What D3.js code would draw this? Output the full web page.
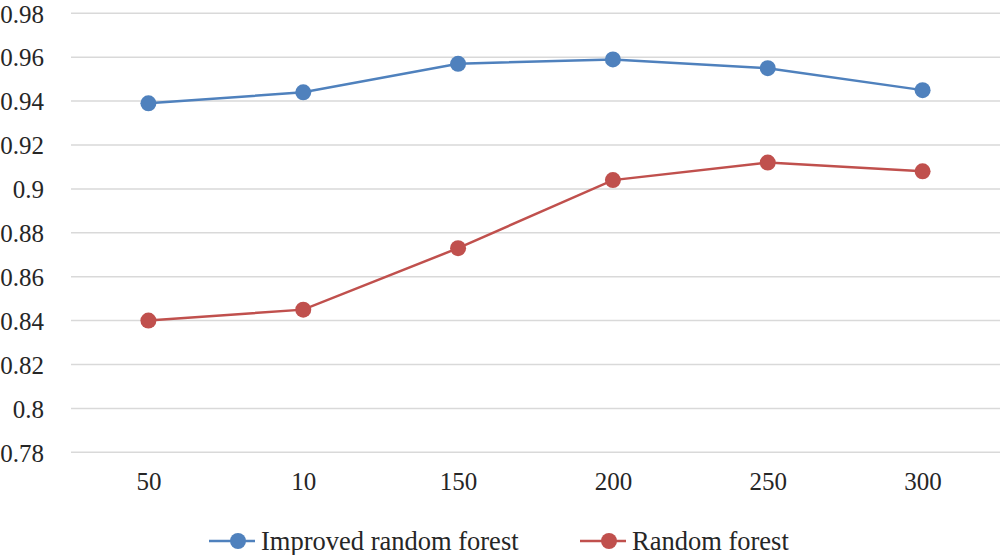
<!DOCTYPE html>
<html>
<head>
<meta charset="utf-8">
<script src="https://cdn.jsdelivr.net/npm/d3@7"></script>
<style>
  body { margin: 0; background: #fff; }
</style>
</head>
<body>
<div class="chart"></div>
<script>
// data
var categories = ["50", "10", "150", "200", "250", "300"];
var improvedRF = [0.939, 0.944, 0.957, 0.959, 0.955, 0.945];
var randomRF = [0.840, 0.845, 0.873, 0.904, 0.912, 0.908];
var yTicks = [0.78, 0.8, 0.82, 0.84, 0.86, 0.88, 0.9, 0.92, 0.94, 0.96, 0.98];
var seriesNames = ["Improved random forest", "Random forest"];
var seriesColors = ["#4f81bd", "#c0504d"];

var width = 1000, height = 555;
var plotLeft = 71, plotRight = 1000, plotTop = 13.3, plotBottom = 452.3;
var serif = "'Liberation Serif', 'Times New Roman', serif";

var svg = d3.select(".chart").append("svg")
  .attr("width", width)
  .attr("height", height);

var x = d3.scalePoint()
  .domain(categories)
  .range([plotLeft, plotRight])
  .padding(0.5);

var y = d3.scaleLinear()
  .domain([0.78, 0.98])
  .range([plotBottom, plotTop]);

// gridlines
svg.append("g")
  .selectAll("line")
  .data(yTicks)
  .join("line")
  .attr("x1", plotLeft)
  .attr("x2", plotRight)
  .attr("y1", d => y(d))
  .attr("y2", d => y(d))
  .attr("stroke", "#d9d9d9")
  .attr("stroke-width", 1.5);

// y labels
var yAxis = d3.axisLeft(y).tickValues(yTicks).tickSize(0).tickPadding(0)
  .tickFormat(d => String(+d.toFixed(2)));
var gy = svg.append("g").attr("transform", `translate(${plotLeft - 27},0)`).call(yAxis);
gy.select(".domain").remove();
gy.selectAll("text")
  .style("font-family", serif).style("font-size", "25px")
  .attr("fill", "#262626").attr("dy", "0.35em");

// x labels
var xAxis = d3.axisBottom(x).tickSize(0).tickPadding(0);
var gx = svg.append("g").attr("transform", `translate(0,${plotBottom + 19})`).call(xAxis);
gx.select(".domain").remove();
gx.selectAll("text")
  .style("font-family", serif).style("font-size", "25px")
  .attr("fill", "#262626").attr("dy", "0.75em");

var line = d3.line()
  .x((d, i) => x(categories[i]))
  .y(d => y(d));

[improvedRF, randomRF].forEach((vals, k) => {
  svg.append("path")
    .datum(vals)
    .attr("d", line)
    .attr("fill", "none")
    .attr("stroke", seriesColors[k])
    .attr("stroke-width", 2.5);

  svg.append("g")
    .selectAll("circle")
    .data(vals)
    .join("circle")
    .attr("cx", (d, i) => x(categories[i]))
    .attr("cy", d => y(d))
    .attr("r", 8)
    .attr("fill", seriesColors[k]);
});

// legend
var legendX = [209, 580];
var legendY = 541;
seriesNames.forEach((name, k) => {
  var g = svg.append("g").attr("transform", `translate(${legendX[k]},${legendY})`);
  g.append("line")
    .attr("x1", 0).attr("x2", 46)
    .attr("y1", 0).attr("y2", 0)
    .attr("stroke", seriesColors[k])
    .attr("stroke-width", 2.5);
  g.append("circle")
    .attr("cx", 29).attr("cy", 0).attr("r", 8)
    .attr("fill", seriesColors[k]);
  g.append("text")
    .attr("x", 52)
    .attr("y", 0)
    .attr("dy", "0.35em")
    .attr("fill", "#262626")
    .style("font-family", serif)
    .style("font-size", "26.5px")
    .text(name);
});
</script>
</body>
</html>
